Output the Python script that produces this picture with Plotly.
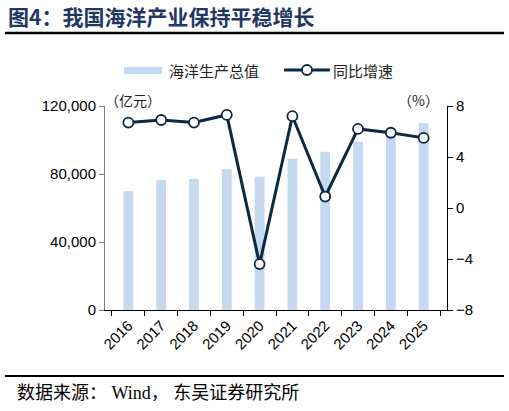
import plotly.graph_objects as go

years = ["2016", "2017", "2018", "2019", "2020", "2021", "2022", "2023", "2024", "2025"]
gdp_values = [70000, 76500, 77100, 83000, 78400, 89000, 93100, 99000, 105000, 110000]
growth_values = [6.7, 6.9, 6.7, 7.3, -4.4, 7.2, 0.9, 6.2, 5.9, 5.5]
left_ticks = [0, 40000, 80000, 120000]
right_ticks = [-8, -4, 0, 4, 8]

W, H = 509, 411
L, R, T, B = 105, 62, 106, 101
PW, PH = W - L - R, H - T - B

def px(x):
    return (x - L) / PW

def py(y):
    return (H - B - y) / PH

navy = "#0E2841"
barc = "#C5D9F1"
tickfont = dict(family="Liberation Sans, Arial, sans-serif", size=15, color="#000000")
cjk = "Noto Sans CJK SC"

fig = go.Figure()
fig.add_trace(go.Bar(x=years, y=gdp_values, name="海洋生产总值", marker=dict(color=barc, line=dict(width=0)),
                     width=0.3, yaxis="y", showlegend=False))
fig.add_trace(go.Scatter(x=years, y=growth_values, name="同比增速", mode="lines+markers",
                         line=dict(color=navy, width=3),
                         marker=dict(size=10, color="white", line=dict(color=navy, width=1.8)),
                         yaxis="y2", showlegend=False))

fig.update_layout(
    width=W, height=H,
    margin=dict(l=L, r=R, t=T, b=B, pad=0),
    plot_bgcolor="white", paper_bgcolor="white",
    showlegend=False,
    xaxis=dict(type="category", showline=True, linecolor="#000000", linewidth=1,
               ticks="outside", tickson="boundaries", ticklen=5, tickcolor="#000000",
               tickangle=-45, tickfont=tickfont, showgrid=False, zeroline=False),
    yaxis=dict(range=[0, 120000], tickvals=left_ticks, tickformat=",", showline=True,
               linecolor="#7f7f7f", linewidth=1, ticks="outside", ticklen=5, tickcolor="#7f7f7f",
               tickfont=tickfont, showgrid=False, zeroline=False),
    yaxis2=dict(range=[-8, 8], tickvals=right_ticks, overlaying="y", side="right", showline=True,
                linecolor="#000000", linewidth=1, ticks="outside", ticklen=5, tickcolor="#000000",
                tickfont=tickfont, showgrid=False, zeroline=False),
    bargap=0.7,
)

# Custom legend
fig.add_shape(type="rect", xref="paper", yref="paper", x0=px(124), x1=px(162), y0=py(67), y1=py(74),
              fillcolor=barc, line=dict(width=0))
fig.add_annotation(text="海洋生产总值", xref="paper", yref="paper", x=px(167), y=py(70),
                   xanchor="left", yanchor="middle", showarrow=False,
                   font=dict(family=cjk, size=15, color="#222222"))
fig.add_shape(type="line", xref="paper", yref="paper", x0=px(284), x1=px(330), y0=py(70), y1=py(70),
              line=dict(color=navy, width=3))
fig.add_shape(type="circle", xref="paper", yref="paper", x0=px(302), x1=px(312), y0=py(65), y1=py(75),
              fillcolor="white", line=dict(color=navy, width=1.8))
fig.add_annotation(text="同比增速", xref="paper", yref="paper", x=px(331), y=py(70),
                   xanchor="left", yanchor="middle", showarrow=False,
                   font=dict(family=cjk, size=15, color="#222222"))

# Title
fig.add_annotation(text="<b>图4：我国海洋产业保持平稳增长</b>", xref="paper", yref="paper",
                   x=px(6), y=py(16), xanchor="left", yanchor="middle", showarrow=False,
                   font=dict(family=cjk, size=21, color="#1F3864"))
# Lines
fig.add_shape(type="line", xref="paper", yref="paper", x0=px(5), x1=px(504), y0=py(33), y1=py(33),
              line=dict(color="#000000", width=2.5))
fig.add_shape(type="line", xref="paper", yref="paper", x0=px(5), x1=px(504), y0=py(376), y1=py(376),
              line=dict(color="#000000", width=2))
# Footer
fig.add_annotation(text="数据来源： Wind， 东吴证券研究所", xref="paper", yref="paper",
                   x=px(15), y=py(393), xanchor="left", yanchor="middle", showarrow=False,
                   font=dict(family="Liberation Serif, " + cjk, size=18, color="#000000"))
# Units
fig.add_annotation(text="（亿元）", xref="paper", yref="paper", x=px(103), y=py(100),
                   xanchor="left", yanchor="middle", showarrow=False,
                   font=dict(family=cjk, size=14, color="#222222"))
fig.add_annotation(text="（%）", xref="paper", yref="paper", x=px(441), y=py(100),
                   xanchor="right", yanchor="middle", showarrow=False,
                   font=dict(family=cjk, size=14, color="#222222"))

fig.write_html("out.html")
